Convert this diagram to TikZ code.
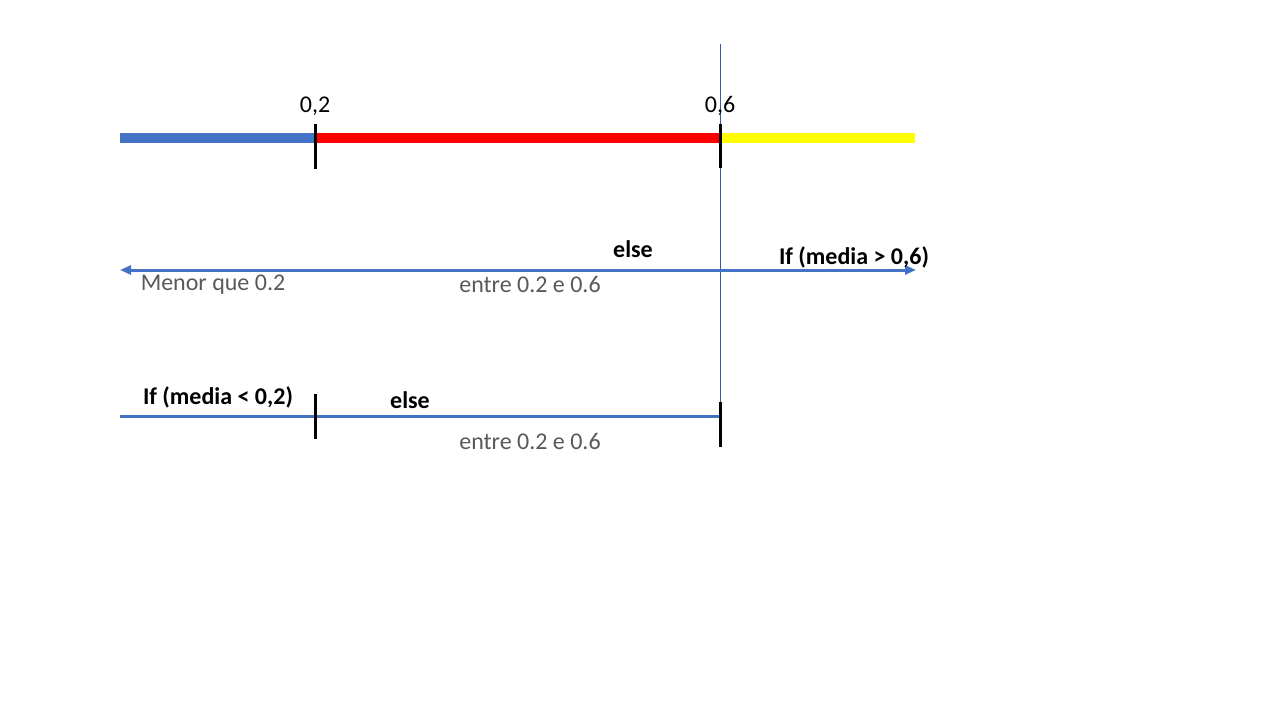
\documentclass[tikz,border=0pt]{standalone}
\usepackage{fontspec}
\setmainfont{Carlito}
\usetikzlibrary{arrows.meta}
\definecolor{pblue}{HTML}{4472C4}
\definecolor{tgray}{HTML}{595959}
\definecolor{pyellow}{HTML}{FFFF00}
\tikzset{>={Triangle[length=11pt,width=9pt]}}
\begin{document}
\begin{tikzpicture}[x=1pt,y=-1pt,
  lbl/.style={font=\fontsize{24}{28}\selectfont,inner sep=0pt,anchor=center},
  blbl/.style={lbl,font=\fontsize{24}{28}\selectfont\bfseries},
  glbl/.style={lbl,text=tgray},
  bar/.style={line width=10pt},
  tick/.style={line width=3pt,black},
  bline/.style={line width=3pt,pblue}]
\useasboundingbox (0,0) rectangle (1280,720);
% vertical guide
\coordinate (v0) at (720,44);
\coordinate (v1) at (720,447);
\draw[pblue!80!black,line width=0.8pt] (v0) -- (v1);
% top bar
\coordinate (a0) at (120,138);
\coordinate (a1) at (315,138);
\coordinate (a2) at (720,138);
\coordinate (a3) at (915,138);
\draw[bar,pblue] (a0) -- (a1);
\draw[bar,red] (a1) -- (a2);
\draw[bar,pyellow] (a2) -- (a3);
\coordinate (t1a) at (315,124); \coordinate (t1b) at (315,169);
\coordinate (t2a) at (720,124); \coordinate (t2b) at (720,168);
\draw[tick] (t1a) -- (t1b);
\draw[tick] (t2a) -- (t2b);
\node[lbl] (l02) at (315,106) {0,2};
\node[lbl] (l06) at (720,106) {0,6};
% middle double arrow
\coordinate (m0) at (120,270);
\coordinate (m1) at (916,270);
\draw[bline,<->] (m0) -- (m1);
\node[blbl] (else1) at (633,249) {else};
\node[blbl] (ifgt) at (854,257) {If (media > 0,6)};
\node[glbl] (menor) at (213,285) {Menor que 0.2};
\node[glbl] (entre1) at (530,284) {entre 0.2 e 0.6};
% bottom line
\coordinate (b0) at (120,416);
\coordinate (b1) at (720,416);
\draw[bline] (b0) -- (b1);
\coordinate (t3a) at (315,394); \coordinate (t3b) at (315,439);
\coordinate (t4a) at (720,402); \coordinate (t4b) at (720,447);
\draw[tick] (t3a) -- (t3b);
\draw[tick] (t4a) -- (t4b);
\node[blbl] (iflt) at (218,397) {If (media < 0,2)};
\node[blbl] (else2) at (410,400) {else};
\node[glbl] (entre2) at (530,441) {entre 0.2 e 0.6};
\end{tikzpicture}
\end{document}
